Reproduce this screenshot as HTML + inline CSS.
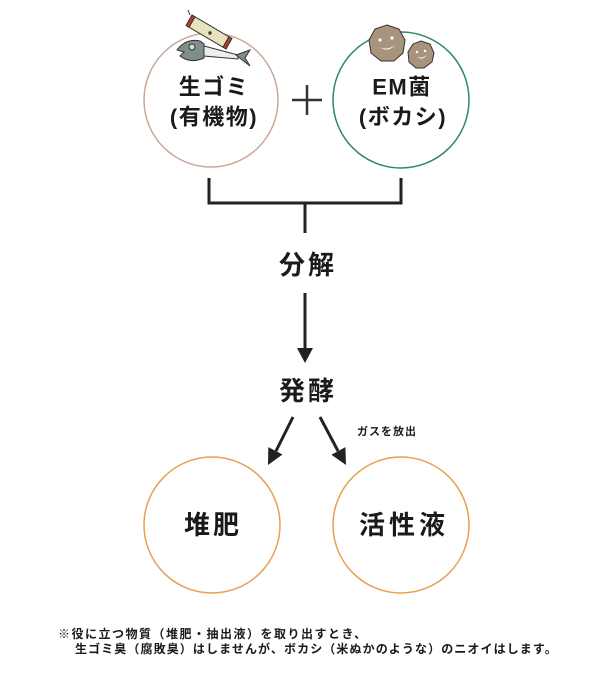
<!DOCTYPE html>
<html><head><meta charset="utf-8"><style>
html,body{margin:0;padding:0;background:#fff;}
svg{display:block;}
text{font-family:"Liberation Sans","Noto Sans CJK JP",sans-serif;fill:#1a1a1a;}
</style></head><body>
<svg width="614" height="673" viewBox="0 0 614 673" xmlns="http://www.w3.org/2000/svg">
<!-- top circles -->
<circle cx="211" cy="100" r="67" fill="none" stroke="#c9a898" stroke-width="1.5"/>
<circle cx="401" cy="100" r="68" fill="none" stroke="#2e8a5e" stroke-width="1.5"/>
<!-- apple core -->
<g stroke="#333" stroke-width="1">
<path d="M195 16.8 L229 36.8 L223 47.2 L189 27.2 Z" fill="#e9e3bd"/>
<path d="M195 16.8 L189 27.2 L186 25.5 L192 15 Z" fill="#c0392b"/>
<path d="M229 36.8 L223 47.2 L226 49 L232 38.5 Z" fill="#c0392b"/>
<line x1="190" y1="15" x2="188" y2="10"/>
<circle cx="210" cy="33" r="1.2" fill="#555"/>
</g>
<!-- fish -->
<g stroke="#333" stroke-width="1">
<path d="M177 50 Q186 38 200 41 L204 44 L204 58 Q190 64 180 56 L184 52 Z" fill="#7f8e8a"/>
<circle cx="192" cy="47" r="3" fill="#d8dcd6"/>
<path d="M204 46 L238 55 L238 59 L204 56 Z" fill="#eee"/>
<path d="M236 55 L250 50 L245 58 L250 66 Z" fill="#7f8e8a"/>
</g>
<!-- bacteria -->
<g stroke="#333" stroke-width="1" fill="#a8937c">
<polygon points="387,25 399,29 405,40 403,53 394,61 381,61 371,53 369,40 375,29"/>
<polygon points="421,41 430,44 434,53 432,62 424,68 416,68 409,62 408,52 413,44"/>
</g>
<g fill="#fff">
<circle cx="380" cy="40" r="1.6"/><circle cx="392" cy="38" r="1.6"/>
<path d="M380 47 Q387 51 395 45 Q388 53 380 47 Z"/>
<circle cx="417" cy="52" r="1.2"/><circle cx="425" cy="51" r="1.2"/>
<path d="M417 57 Q422 59 427 55 Q422 61 417 57 Z"/>
</g>
<!-- plus -->
<g stroke="#333" stroke-width="2.5">
<line x1="292" y1="100" x2="322" y2="100"/>
<line x1="307" y1="85" x2="307" y2="115"/>
</g>
<text x="214" y="87" font-size="22" font-weight="700" text-anchor="middle" dominant-baseline="central" letter-spacing="1.5">生ゴミ</text>
<text x="214" y="117" font-size="22" font-weight="700" text-anchor="middle" dominant-baseline="central" letter-spacing="1.5">(有機物)</text>
<text x="402" y="87" font-size="22" font-weight="700" text-anchor="middle" dominant-baseline="central" letter-spacing="1.5">EM菌</text>
<text x="403" y="117" font-size="22" font-weight="700" text-anchor="middle" dominant-baseline="central" letter-spacing="1.5">(ボカシ)</text>
<!-- bracket -->
<path d="M209 178 V203 H401 V178 M305 203 V233" fill="none" stroke="#222" stroke-width="3"/>
<text x="308" y="265" font-size="26" font-weight="700" text-anchor="middle" dominant-baseline="central" letter-spacing="3">分解</text>
<!-- vertical arrow -->
<line x1="305" y1="293" x2="305" y2="350" stroke="#222" stroke-width="3"/>
<polygon points="297,348 313,348 305,363" fill="#222"/>
<text x="308" y="391" font-size="26" font-weight="700" text-anchor="middle" dominant-baseline="central" letter-spacing="3">発酵</text>
<!-- diagonal arrows -->
<line x1="293" y1="417" x2="276" y2="451" stroke="#222" stroke-width="3"/>
<polygon points="282.5,454.5 268.3,447.1 268,465" fill="#222"/>
<line x1="320" y1="417" x2="338" y2="451" stroke="#222" stroke-width="3"/>
<polygon points="331.4,454.7 345.4,447.1 346,465" fill="#222"/>
<text x="357" y="432" font-size="11" font-weight="700" dominant-baseline="central" letter-spacing="1">ガスを放出</text>
<!-- bottom circles -->
<circle cx="212" cy="525" r="68" fill="none" stroke="#e8a050" stroke-width="1.5"/>
<circle cx="401" cy="525" r="68" fill="none" stroke="#e8a050" stroke-width="1.5"/>
<text x="213" y="525" font-size="26" font-weight="700" text-anchor="middle" dominant-baseline="central" letter-spacing="3">堆肥</text>
<text x="404" y="525" font-size="26" font-weight="700" text-anchor="middle" dominant-baseline="central" letter-spacing="4">活性液</text>
<!-- footnote -->
<text x="58" y="634" font-size="12" font-weight="700" dominant-baseline="central" letter-spacing="1.5">※役に立つ物質（堆肥・抽出液）を取り出すとき、</text>
<text x="75" y="649" font-size="12" font-weight="700" dominant-baseline="central" letter-spacing="1.1">生ゴミ臭（腐敗臭）はしませんが、ボカシ（米ぬかのような）のニオイはします。</text>
</svg>
</body></html>
